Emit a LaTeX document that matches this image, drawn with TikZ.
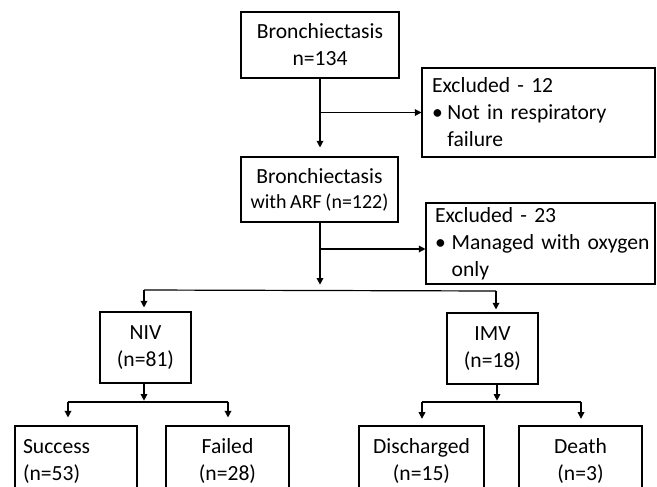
\documentclass[tikz,border=0pt]{standalone}
\usepackage{fontspec}
\setmainfont{Carlito}[WordSpace=0.8]
\usetikzlibrary{arrows.meta,calc}

\tikzset{
    box/.style={draw, line width=0.8pt, inner sep=0pt, align=center,
        font=\fontsize{16.2pt}{20.25pt}\selectfont},
    leftbox/.style={box, align=left},
    arr/.style={-{Triangle[length=5pt,width=5pt]}, line width=0.9pt},
    bar/.style={line width=0.9pt}
}

\begin{document}
\begin{tikzpicture}[x=0.75pt,y=-0.75pt]
    \clip (0,0) rectangle (657,486);

    % main column
    \node[box, minimum width=118.5pt, minimum height=49.5pt] (total) at (320,45) {Bronchiectasis\\n=134};
    \node[box, minimum width=117.75pt, minimum height=48.75pt] (arf) at (319.5,189.5)
        {Bronchiectasis\\[-1.5pt]{\fontsize{15pt}{18pt}\selectfont with ARF (n=122)}};

    % excluded boxes
    \node[leftbox, text width=159.75pt, inner xsep=7.5pt, minimum height=66.75pt] (ex1) at (538.5,112.5)
        {\mbox{Excluded - 12}\\\makebox[11.5pt][l]{\textbullet}\mbox{Not in respiratory}\\\hspace*{11.5pt}failure};
    \node[leftbox, text width=158.25pt, inner xsep=6.75pt, minimum height=60.75pt] (ex2) at (540.5,243.5)
        {\mbox{Excluded - 23}\\\makebox[12.5pt][l]{\textbullet}\mbox{Managed with oxygen}\\\hspace*{12.5pt}only};

    % treatment
    \node[box, minimum width=68.25pt, minimum height=53.25pt] (niv) at (145.5,347.5) {NIV\\(n=81)};
    \node[box, minimum width=68.25pt, minimum height=53.25pt] (imv) at (492.5,348.5) {IMV\\(n=18)};

    % outcomes
    \node[leftbox, text width=79.5pt, inner xsep=6pt, minimum height=52.5pt] (succ) at (76,461) {Success\\(n=53)};
    \node[box, minimum width=92.25pt, minimum height=52.5pt] (fail) at (227.5,461) {Failed\\(n=28)};
    \node[box, minimum width=93.75pt, minimum height=52.5pt] (disc) at (421.5,461) {Discharged\\(n=15)};
    \node[box, minimum width=92.25pt, minimum height=52.5pt] (death) at (580.5,461) {Death\\(n=3)};

    % flow down the middle
    \draw[arr, shorten >=6.75pt] (total.south) -- (total.south |- arf.north);
    \draw[arr] (total.south |- ex1.west) -- (ex1.west);
    \coordinate (split) at (320,290);
    \coordinate (j2) at (320,249);
    \draw[arr, shorten >=4pt] (arf.south -| total.south) -- (split);
    \draw[arr] (j2) -- (j2 -| ex2.west);

    % split into NIV and IMV
    \coordinate (nivin) at (144,290);
    \coordinate (imvin) at (496,291);
    \draw[bar] (nivin) -- (imvin);
    \draw[arr, shorten >=3pt] (nivin) -- (nivin |- niv.north);
    \draw[arr, shorten >=2.25pt] (imvin) -- (imvin |- imv.north);

    % NIV outcomes
    \coordinate (nivfork) at (144,402);
    \coordinate (succin) at (68,402);
    \coordinate (failin) at (228,402);
    \draw[arr, shorten >=1pt] (nivfork |- niv.south) -- (nivfork);
    \draw[bar] (succin) -- (failin);
    \draw[arr, shorten >=6pt] (succin) -- (succin |- succ.north);
    \draw[arr, shorten >=6pt] (failin) -- (failin |- fail.north);

    % IMV outcomes
    \coordinate (imvfork) at (497,402);
    \coordinate (discin) at (422,402);
    \coordinate (deathin) at (581,402);
    \draw[arr, shorten >=1pt] (imvfork |- imv.south) -- (imvfork);
    \draw[bar] (discin) -- (deathin);
    \draw[arr, shorten >=5pt] (discin) -- (discin |- disc.north);
    \draw[arr, shorten >=5pt] (deathin) -- (deathin |- death.north);
\end{tikzpicture}
\end{document}
